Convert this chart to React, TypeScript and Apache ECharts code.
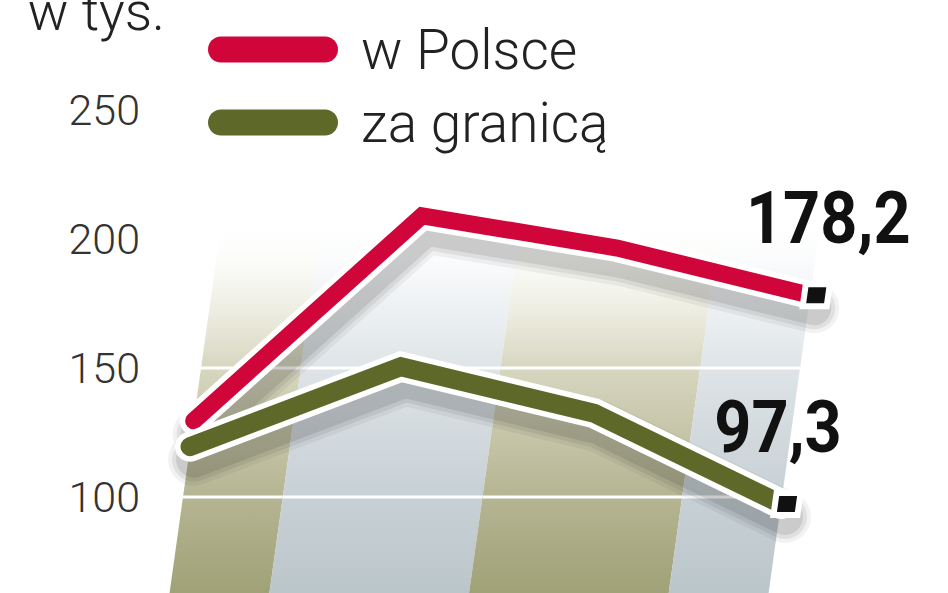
import { useEffect, useRef } from 'react';
import * as echarts from 'echarts';

// dane z wykresu (w tys.)
const okresy = ['1', '2', '3', '4'];
const wPolsce = [129.5, 209, 196.5, 178.2];
const zaGranica = [119.5, 150.5, 132.5, 97.3];
const yMin = 100;
const yMax = 250;
const yStep = 50;
const siatka = [100, 150];

const SKEW = 0.14;      // pochylenie pasów i linii
const BAND_FLOOR = 60;  // pasy schodzą poniżej dolnej krawędzi
const BAND_TOP = 208;
const FONT = 'Roboto, "Noto Sans", sans-serif';

const bandStops = [
    [
        { offset: 0, color: 'rgb(158,160,116)' },
        { offset: 0.27, color: 'rgb(181,181,147)' },
        { offset: 0.61, color: 'rgb(215,214,192)' },
        { offset: 0.82, color: 'rgba(242,242,232,0.8)' },
        { offset: 1, color: 'rgba(255,255,255,0)' },
    ],
    [
        { offset: 0, color: 'rgb(186,197,202)' },
        { offset: 0.27, color: 'rgb(199,208,213)' },
        { offset: 0.61, color: 'rgb(222,228,231)' },
        { offset: 0.82, color: 'rgba(240,243,245,0.85)' },
        { offset: 1, color: 'rgba(255,255,255,0)' },
    ],
];

const seriesStyle = [
    { name: 'w Polsce', data: wPolsce, color: '#d0063a', width: 17, labelDx: 18 },
    { name: 'za granicą', data: zaGranica, color: '#5d6829', width: 19, labelDx: -3 },
];

// punkt z osi + pochylenie względem dolnej linii (100)
const skewPt = (api: any, idx: number, val: number) => {
    const p = api.coord([idx, val]);
    const ref = api.coord([idx, yMin])[1];
    return [p[0] + SKEW * (ref - p[1]), p[1]];
};

const App = () => {
    const chartRef = useRef<HTMLDivElement | null>(null);

    useEffect(() => {
        if (!chartRef.current) return;
        const chart = echarts.init(chartRef.current, null, { renderer: 'svg' });
        const n = okresy.length;

        const renderBand = (params: any, api: any) => {
            const i = params.dataIndex;
            const xLeft = (val: number) => {
                const a = skewPt(api, i, val);
                if (i === 0) return a;
                const b = skewPt(api, i - 1, val);
                return [(a[0] + b[0]) / 2, a[1]];
            };
            const xRight = (val: number) => {
                const a = skewPt(api, i, val);
                if (i === n - 1) return a;
                const b = skewPt(api, i + 1, val);
                return [(a[0] + b[0]) / 2, a[1]];
            };
            const children: any[] = [
                {
                    type: 'polygon',
                    shape: { points: [xLeft(BAND_FLOOR), xRight(BAND_FLOOR), xRight(BAND_TOP), xLeft(BAND_TOP)] },
                    style: { fill: new echarts.graphic.LinearGradient(0, 1, 0, 0, bandStops[i % 2]) },
                },
            ];
            siatka.forEach((v) => {
                const l = xLeft(v);
                const r = xRight(v);
                children.push({
                    type: 'line',
                    shape: { x1: l[0], y1: l[1], x2: r[0], y2: r[1] },
                    style: { stroke: '#ffffff', lineWidth: 3 },
                });
            });
            return { type: 'group', children };
        };

        const renderLine = (s: typeof seriesStyle[number]) => (params: any, api: any) => {
            if (params.dataIndex !== 0) return null;
            const pts = s.data.map((v, i) => skewPt(api, i, v));
            const shadowPts = pts.map((p) => [p[0] + 4, p[1] + 13]);
            const last = pts[pts.length - 1];
            const cx = last[0] + 6;
            const cy = last[1];
            const h = 11;
            const w = 12;
            const sq = [
                [cx - w - SKEW * h, cy + h],
                [cx + w - SKEW * h, cy + h],
                [cx + w + SKEW * h, cy - h],
                [cx - w + SKEW * h, cy - h],
            ];
            const value = s.data[s.data.length - 1];
            const halo = s.width + 11;
            // miękki cień pod linią
            const shadows = [22, 14, 6].map((extra, j) => ({
                type: 'polyline',
                shape: { points: shadowPts },
                style: {
                    stroke: `rgba(0,0,0,${0.05 + j * 0.02})`, lineWidth: halo + extra, fill: null,
                    lineJoin: 'round', lineCap: 'round',
                },
            }));
            return {
                type: 'group',
                children: [
                    ...shadows,
                    {
                        type: 'polyline',
                        shape: { points: pts },
                        style: { stroke: '#ffffff', lineWidth: halo, fill: null, lineJoin: 'miter', lineCap: 'round' },
                    },
                    {
                        type: 'polyline',
                        shape: { points: pts },
                        style: { stroke: s.color, lineWidth: s.width, fill: null, lineJoin: 'miter', lineCap: 'round' },
                    },
                    {
                        type: 'polygon',
                        shape: { points: sq },
                        style: { fill: '#111111', stroke: '#ffffff', lineWidth: 6 },
                    },
                    {
                        type: 'text',
                        x: last[0] + s.labelDx,
                        y: last[1] - 77,
                        scaleX: 0.9,
                        style: {
                            text: value.toFixed(1).replace('.', ','),
                            fontFamily: FONT, fontWeight: 'bold', fontSize: 72,
                            fill: '#111111', align: 'center', verticalAlign: 'middle',
                        },
                    },
                ],
            };
        };

        const option = {
            animation: false,
            backgroundColor: '#ffffff',
            grid: { left: 183, right: 166, top: 110, bottom: 96, outerBoundsMode: 'none' },
            legend: {
                orient: 'vertical',
                left: 203,
                top: 17,
                itemWidth: 130,
                itemHeight: 26,
                itemGap: 18,
                selectedMode: false,
                icon: 'path://M13 0H117A13 13 0 0 1 117 26H13A13 13 0 0 1 13 0Z',
                textStyle: { fontFamily: FONT, fontWeight: 300, fontSize: 55, color: '#222222', padding: [0, 0, 0, 18] },
                data: seriesStyle.map((s) => s.name),
            },
            xAxis: { type: 'category', data: okresy, boundaryGap: false, show: false },
            yAxis: {
                type: 'value',
                min: yMin,
                max: yMax,
                interval: yStep,
                axisLine: { show: false },
                axisTick: { show: false },
                splitLine: { show: false },
                axisLabel: { margin: 43, fontFamily: FONT, fontWeight: 300, fontSize: 43, color: '#333333' },
                name: 'w tys.',
                nameLocation: 'end',
                nameGap: 72,
                nameTextStyle: {
                    fontFamily: FONT, fontWeight: 300, fontSize: 54, color: '#222222',
                    align: 'right', verticalAlign: 'bottom', padding: [0, 18, 0, 0],
                },
            },
            series: [
                {
                    type: 'custom',
                    name: 'pasy',
                    z: 1,
                    silent: true,
                    renderItem: renderBand,
                    data: okresy.map((_, i) => [i, yMin]),
                    encode: { x: 0, y: 1 },
                },
                ...seriesStyle.map((s, k) => ({
                    type: 'custom',
                    name: s.name,
                    z: 3 + k,
                    itemStyle: { color: s.color },
                    renderItem: renderLine(s),
                    data: s.data.map((v, i) => [i, v]),
                    encode: { x: 0, y: 1 },
                })),
            ],
        };

        chart.setOption(option as any);
        return () => {
            chart.dispose();
        };
    }, []);

    return <div ref={chartRef} style={{ position: 'absolute', left: 0, top: 0, width: 948, height: 593 }} />;
};

export default App;
